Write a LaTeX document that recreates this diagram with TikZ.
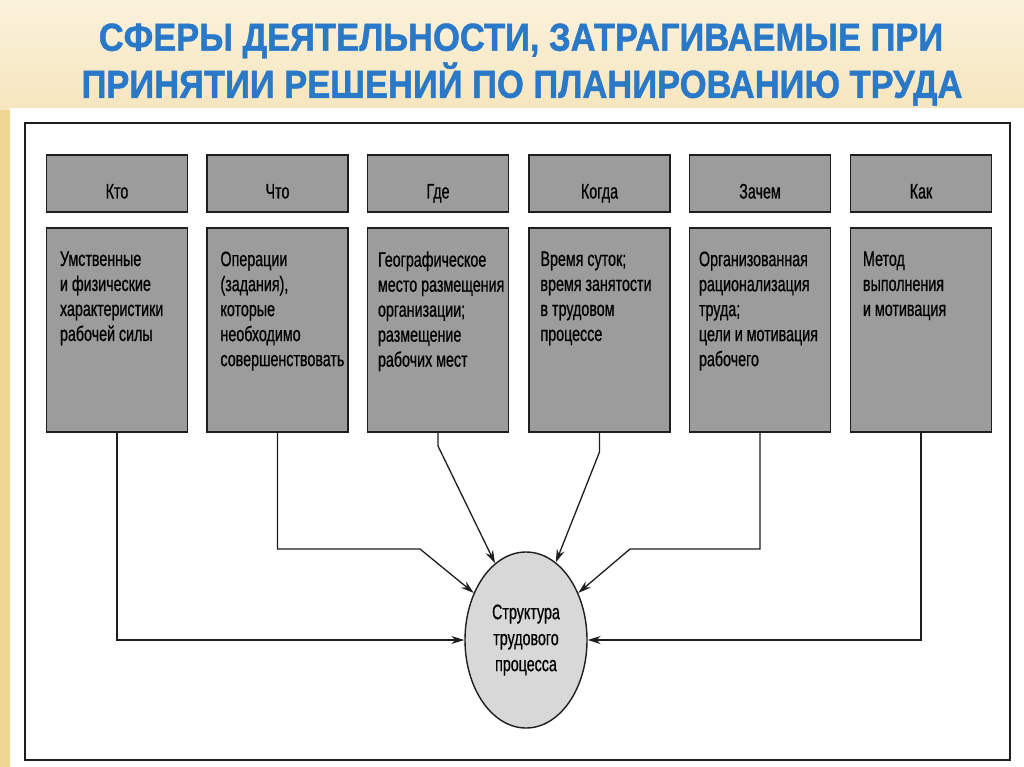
\documentclass[tikz,border=0pt]{standalone}
\usepackage{fontspec}
\setmainfont{Liberation Sans}
\newfontfamily\nar[FakeStretch=0.68,FakeBold=0.6]{Liberation Sans}
\newfontfamily\titlefont[FakeStretch=0.885,FakeBold=1.2]{Liberation Sans Bold}
\usetikzlibrary{shapes.geometric,arrows.meta}
\definecolor{bgbeige}{HTML}{F6E6BE}
\definecolor{bglight}{HTML}{FBF2DC}
\definecolor{boxgray}{HTML}{9C9C9C}
\definecolor{ellgray}{HTML}{D8D8D8}
\definecolor{titleblue}{HTML}{2A79C9}
\definecolor{inkdark}{HTML}{1E1E1E}
\newcommand{\hdtext}[1]{\raisebox{-15pt}[0pt][0pt]{#1}}
\tikzset{
  hbox/.style={draw=inkdark, line width=1.4pt, fill=boxgray, minimum width=141pt, minimum height=57pt, inner sep=0pt, font=\nar\fontsize{21}{24}\selectfont, text=black},
  bbox/.style={draw=inkdark, line width=1.4pt, fill=boxgray, minimum width=141pt, minimum height=204pt, inner sep=0pt},
  btext/.style={anchor=north west, inner sep=0pt, align=left, font=\nar\fontsize{21}{25}\selectfont, text=black},
  ell/.style={ellipse, draw=inkdark, line width=1.4pt, fill=ellgray, minimum width=122pt, minimum height=176pt, inner sep=0pt, align=center, font=\nar\fontsize{21}{26}\selectfont},
  conn/.style={draw=inkdark, line width=1.3pt},
  arr/.style={conn, -{Stealth[length=13pt,width=8pt]}},
  ttl/.style={font=\titlefont\fontsize{39}{42}\selectfont, text=titleblue, inner sep=0pt}
}
\begin{document}
\begin{tikzpicture}[x=1pt,y=-1pt]
\useasboundingbox (0,0) rectangle (1024,767);
% background
\shade[top color=bglight, bottom color=bgbeige] (0,0) rectangle (1024,110);
\fill[bgbeige] (0,110) rectangle (1024,767);
\fill[color={rgb,255:red,238;green,214;blue,146}] (0,110) rectangle (10,767);
\fill[white] (10,108) rectangle (1024,767);
% frame
\draw[draw=inkdark, line width=1.4pt] (25,123) rectangle (1010,760);
% title
\node[ttl] (title1) at (521,41) {СФЕРЫ ДЕЯТЕЛЬНОСТИ, ЗАТРАГИВАЕМЫЕ ПРИ};
\node[ttl] (title2) at (522,84) {ПРИНЯТИИ РЕШЕНИЙ ПО ПЛАНИРОВАНИЮ ТРУДА};
% header boxes
\node[hbox] (h1) at (117,183.5) {\hdtext{Кто}};
\node[hbox] (h2) at (277.5,183.5) {\hdtext{Что}};
\node[hbox] (h3) at (438,183.5) {\hdtext{Где}};
\node[hbox] (h4) at (599.5,183.5) {\hdtext{Когда}};
\node[hbox] (h5) at (760,183.5) {\hdtext{Зачем}};
\node[hbox] (h6) at (921,183.5) {\hdtext{Как}};
% body boxes
\node[bbox] (b1) at (117,330) {};
\node[bbox] (b2) at (277.5,330) {};
\node[bbox] (b3) at (438,330) {};
\node[bbox] (b4) at (599.5,330) {};
\node[bbox] (b5) at (760,330) {};
\node[bbox] (b6) at (921,330) {};
\node[btext] (t1) at ([xshift=14pt,yshift=-24pt]b1.north west) {Умственные\\и физические\\характеристики\\рабочей силы};
\node[btext] (t2) at ([xshift=14pt,yshift=-24pt]b2.north west) {Операции\\(задания),\\которые\\необходимо\\совершенствовать};
\node[btext] (t3) at ([xshift=11pt,yshift=-24pt]b3.north west) {Географическое\\место размещения\\организации;\\размещение\\рабочих мест};
\node[btext] (t4) at ([xshift=12pt,yshift=-24pt]b4.north west) {Время суток;\\время занятости\\в трудовом\\процессе};
\node[btext] (t5) at ([xshift=10pt,yshift=-24pt]b5.north west) {Организованная\\рационализация\\труда;\\цели и мотивация\\рабочего};
\node[btext] (t6) at ([xshift=13pt,yshift=-24pt]b6.north west) {Метод\\выполнения\\и мотивация};
% ellipse
\node[ell] (e) at (526,640) {Структура\\трудового\\процесса};
% corner coordinates
\coordinate (c2) at (420,549);
\coordinate (c5) at (630,549);
\coordinate (c3) at (438,446);
\coordinate (c4) at (599.5,452);
% connectors
\draw[arr] (b1.south) |- (e.west);
\draw[arr] (b6.south) |- (e.east);
\draw[arr] (b2.south) |- (c2) -- (e.138);
\draw[arr] (b5.south) |- (c5) -- (e.42);
\draw[arr] (b3.south) -- (c3) -- (e.112);
\draw[arr] (b4.south) -- (c4) -- (e.69);
\end{tikzpicture}
\end{document}
